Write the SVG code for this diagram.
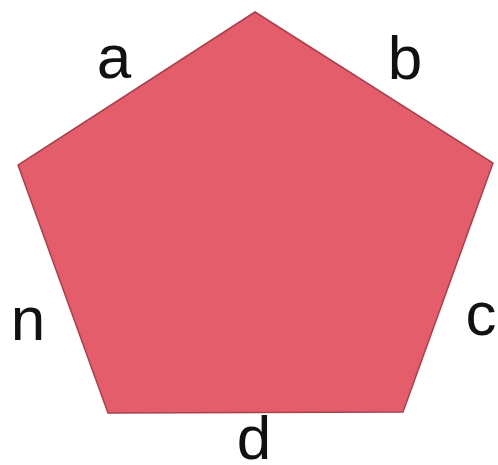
<svg xmlns="http://www.w3.org/2000/svg" width="498" height="465" viewBox="0 0 498 465">
<style>
.lbl{font-family:"Liberation Sans",Arial,sans-serif;font-size:62px;fill:#111;text-anchor:middle}
</style>
<rect width="498" height="465" fill="#ffffff"/>
<g id="pentagon">
<polygon points="255,12 493,163 403,412 108,413 18,165" fill="#e35d6a" stroke="#a8404e" stroke-width="1.5" stroke-linejoin="miter"/>
</g>
<g id="labels">
<text class="lbl" x="114" y="78">a</text>
<text class="lbl" x="405" y="79">b</text>
<text class="lbl" x="481" y="335">c</text>
<text class="lbl" x="254" y="459" font-size="60">d</text>
<text class="lbl" x="28" y="340">n</text>
</g>
</svg>
